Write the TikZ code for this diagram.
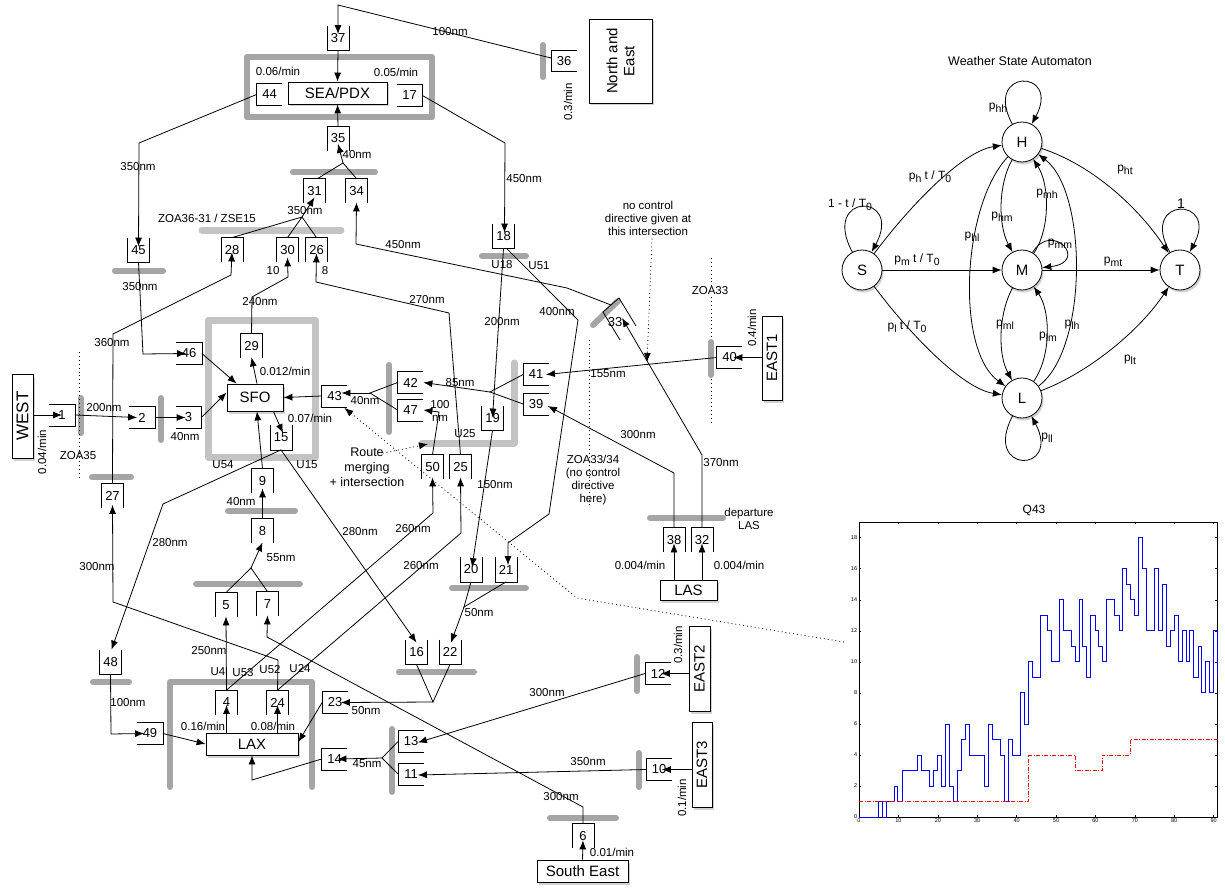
\documentclass[tikz,border=0pt]{standalone}
\usepackage{fontspec}
\setmainfont{Liberation Sans}
\usetikzlibrary{arrows.meta,calc,shadows}
\definecolor{barg}{RGB}{165,165,165}
\definecolor{barl}{RGB}{195,195,195}
\tikzset{
  lbl/.style={font=\fontsize{11.5}{13}\selectfont, inner sep=0pt, align=center},
  qv/.style={minimum width=21pt, minimum height=24pt, inner sep=0pt, font=\fontsize{13}{14}\selectfont},
  qh/.style={minimum width=25pt, minimum height=21pt, inner sep=0pt, font=\fontsize{13}{14}\selectfont},
  bigbox/.style={draw, fill=white, font=\fontsize{15}{17}\selectfont, inner sep=1pt, align=center,
     drop shadow={opacity=0.35, shadow xshift=1.5pt, shadow yshift=-2.5pt}},
  st/.style={circle, draw, fill=white, minimum size=40pt, inner sep=0pt, font=\fontsize{15}{17}\selectfont,
     drop shadow={opacity=0.35, shadow xshift=1.5pt, shadow yshift=-2.5pt}},
  ar/.style={-{Latex[length=9pt,width=7pt]}},
  bar/.style={line width=6pt, line cap=round, line join=round, draw=barg},
  barL/.style={line width=7pt, line cap=round, line join=round, draw=barl},
  dotline/.style={line width=0.8pt, dash pattern=on 0.9pt off 3pt},
  plab/.style={inner sep=0pt, font=\fontsize{12}{13}\selectfont},
}
\newcommand\sbx[1]{\raisebox{-0.45ex}{\fontsize{10.5}{11}\selectfont #1}}
\newcommand\quT[4]{\node[qv] (#1) at (#2,#3) {#4};\draw (#1.north west)--(#1.south west)--(#1.south east)--(#1.north east);}
\newcommand\quB[4]{\node[qv] (#1) at (#2,#3) {#4};\draw (#1.south west)--(#1.north west)--(#1.north east)--(#1.south east);}
\newcommand\quL[4]{\node[qh] (#1) at (#2,#3) {#4};\draw (#1.north west)--(#1.north east)--(#1.south east)--(#1.south west);}
\newcommand\quR[4]{\node[qh] (#1) at (#2,#3) {#4};\draw (#1.north east)--(#1.north west)--(#1.south west)--(#1.south east);}
\begin{document}
\begin{tikzpicture}[x=1pt,y=-1pt,line width=0.8pt]
\fill[white] (0,0) rectangle (1225,888);
\useasboundingbox (0,0) rectangle (1225,888);

% ---------- gray bars ----------
\draw[bar] (247,57) rectangle (432,117);
\draw[barL] (208,320) rectangle (315,457);
\draw[bar] (293,172) -- (375,172);
\draw[barL] (202,230) -- (341,230);
\draw[bar] (115,271) -- (163,271);
\draw[bar] (81,398) -- (81,433);
\draw[bar] (161,398) -- (161,440);
\draw[bar] (92,477) -- (131,477);
\draw[bar] (228,511) -- (295,511);
\draw[bar] (196,584) -- (300,584);
\draw[bar] (93,682) -- (129,682);
\draw[bar] (170,787) -- (170,682) -- (312,682) -- (312,787);
\draw[bar] (392,729) -- (392,792);
\draw[bar] (399,672) -- (474,672);
\draw[bar] (452,588) -- (526,588);
\draw[barL] (514,363) -- (514,443) -- (422,443);
\draw[bar] (389,365) -- (389,432);
\draw[bar] (593,325) -- (618,301);
\draw[bar] (650,518) -- (723,518);
\draw[bar] (637,657) -- (637,691);
\draw[bar] (639,753) -- (639,787);
\draw[bar] (550,818) -- (616,818);
\draw[bar] (482,256) -- (526,256);
\draw[bar] (543,45) -- (543,77);

% ---------- dotted zone lines ----------
\draw[dotline] (79,352) -- (79,480);
\draw[dotline] (711,258) -- (711,425);
\draw[dotline] (589,340) -- (589,507);
\draw[bar] (711,342) -- (711,375);

% ---------- big boxes ----------
\node[bigbox, minimum width=99pt, minimum height=22pt] (SEA) at (337.5,93) {SEA/PDX};
\node[bigbox, minimum width=56pt, minimum height=27pt] (SFO) at (255,397.5) {SFO};
\node[bigbox, minimum width=92pt, minimum height=22pt] (LAX) at (252,744) {LAX};
\node[bigbox, minimum width=57pt, minimum height=20pt] (LAS) at (688.5,590) {LAS};
\node[bigbox, minimum width=91pt, minimum height=22pt] (SE) at (582.5,871) {South East};
\node[bigbox, rotate=90, minimum width=84pt, minimum height=21pt, font=\fontsize{17}{19}\selectfont] (WEST) at (22.5,416) {WEST};
\node[bigbox, rotate=90, minimum width=84pt, minimum height=20pt] (EAST1) at (772,358) {EAST1};
\node[bigbox, rotate=90, minimum width=85pt, minimum height=21pt] (EAST2) at (699.5,668.5) {EAST2};
\node[bigbox, rotate=90, minimum width=85pt, minimum height=20pt] (EAST3) at (702,764.5) {EAST3};
\node[bigbox, rotate=90, minimum width=84pt, minimum height=63pt] (NE) at (620.5,61) {North and\\East};

% ---------- queues ----------
\quT{q37}{338}{38.5}{37}
\quR{q44}{269.5}{94.5}{44}
\quL{q17}{409.5}{95.5}{17}
\quB{q35}{338}{138.5}{35}
\quB{q31}{314.5}{191}{31}
\quB{q34}{356.5}{191}{34}
\quT{q45}{138.5}{250}{45}
\quB{q28}{232}{250}{28}
\quB{q30}{287.5}{250}{30}
\quB{q26}{316.5}{250}{26}
\quB{q29}{251.5}{346}{29}
\quL{q46}{189}{353.5}{46}
\quL{q1}{62}{415}{1}
\quL{q2}{142}{417.5}{2}
\quL{q3}{188.5}{417.5}{3}
\quT{q15}{281}{437.5}{15}
\quB{q9}{262.5}{481}{9}
\quB{q8}{262.5}{531}{8}
\quB{q27}{112.5}{495.5}{27}
\quB{q5}{226}{605}{5}
\quB{q7}{267.5}{604}{7}
\quT{q48}{110.5}{662}{48}
\quL{q49}{150}{733.5}{49}
\quB{q4}{226.5}{702.5}{4}
\quB{q24}{277.5}{702.5}{24}
\quR{q23}{335}{702.5}{23}
\quR{q14}{334.5}{759}{14}
\quR{q13}{411}{741.5}{13}
\quR{q11}{411}{774}{11}
\quR{q12}{658}{673.5}{12}
\quR{q10}{659}{769.5}{10}
\quB{q6}{583}{836}{6}
\quT{q16}{416.5}{652}{16}
\quT{q22}{450}{652}{22}
\quT{q20}{471}{569.5}{20}
\quT{q21}{506}{569.5}{21}
\quT{q19}{492.5}{418}{19}
\quT{q18}{503.5}{236}{18}
\quB{q50}{432.5}{467}{50}
\quB{q25}{460.5}{467}{25}
\quR{q43}{334.5}{396}{43}
\quR{q42}{410.5}{382.5}{42}
\quR{q47}{410.5}{410}{47}
\quR{q41}{536}{374.5}{41}
\quR{q39}{536}{404}{39}
\quR{q40}{729.5}{357.5}{40}
\quB{q38}{674}{540}{38}
\quB{q32}{702}{540}{32}
\quR{q36}{564}{61}{36}
\node[inner sep=0pt, font=\fontsize{13}{14}\selectfont] (q33) at (615,322) {33};
\draw ($(q33)+(5,18)$) -- ($(q33)+(-12,-10)$) -- ($(q33)+(4,-24)$) -- ($(q33)+(21,4)$);

% ---------- bend points ----------
\coordinate (b36) at (338,5);
\coordinate (b44) at (139,143);
\coordinate (b45) at (143,354);
\coordinate (m35) at (343,163);
\coordinate (m31) at (302,217);
\coordinate (b29a) at (252,297);
\coordinate (b29b) at (288,277);
\coordinate (b27a) at (113,334);
\coordinate (b27b) at (231,275);
\coordinate (b25a) at (449,313);
\coordinate (b25b) at (316,282);
\coordinate (b33a) at (567,288);
\coordinate (b33b) at (356,244);
\coordinate (b17) at (505,143);
\coordinate (b51a) at (578,320);
\coordinate (b51b) at (549,514);
\coordinate (b51c) at (508,543);
\coordinate (m22) at (464,607);
\coordinate (m23) at (433,702);
\coordinate (b50) at (433,513);
\coordinate (b25c) at (461,533);
\coordinate (b24a) at (278,660);
\coordinate (b24b) at (113,602);
\coordinate (m8) at (251,568);
\coordinate (b15) at (163,504);
\coordinate (b48) at (111,734);
\coordinate (m43) at (370,393);
\coordinate (m42) at (490,392);
\coordinate (b47) at (439,412);
\coordinate (b38) at (674,473);
\coordinate (b32) at (702,455);
\coordinate (m14) at (382,758);
\coordinate (b14) at (252,780);
\coordinate (b6a) at (583,807);
\coordinate (b6b) at (267,637);

% ---------- connectors ----------
\draw[ar] ($(q36.west)+(0,-3)$) -- (b36) -- ($(q37.north)+(0,8)$);
\draw[ar] (q37.south) -- (SEA.north);
\draw[ar] (q35.north) -- (SEA.south);
\draw ($(q31.north)+(3,0)$) -- (m35) -- (q34.north);
\draw[ar] (m35) -- ($(q35.south)+(0,-7)$);
\draw[ar] (q44.west) -- (b44) -- ($(q45.north)+(0,9)$);
\draw[ar] (q45.south) -- (b45) -- ($(q46.west)+(10,0)$);
\draw[ar] (q46.east) -- ($(SFO.north west)+(10,0)$);
\draw[ar] (q1 -| WEST.south) -- ($(q1.west)+(13,0)$);
\draw[ar] (q1.east) -- ($(q2.west)+(8,0)$);
\draw[ar] (q2.east) -- ($(q3.west)+(10,0)$);
\draw[ar] (q3.east) -- ($(SFO.west)+(0,-5)$);
\draw[ar] ($(SFO.north)+(2,0)$) -- ($(q29.south)+(0,-1)$);
\draw[ar] (q29.north) -- (b29a) -- (b29b) -- ($(q30.south)+(0,-5)$);
\draw (q28.north) -- (m31) -- (q30.north);
\draw (q26.north) -- (m31);
\draw[ar] (m31) -- ($(q31.south)+(0,-6)$);
\draw[ar] (q27.north) -- (b27a) -- (b27b) -- ($(q28.south)+(0,-10)$);
\draw[ar] (q25.north) -- (b25a) -- (b25b) -- ($(q26.south)+(0,-9)$);
\draw[ar] ($(q33)+(-4,-17)$) -- (b33a) -- (b33b) -- ($(q34.south)+(0,-1)$);
\draw[ar] (q17.east) -- (b17) -- ($(q18.north)+(1,9)$);
\draw[ar] (q18.south) -- ($(q19.north)+(0,12)$);
\draw[ar] ($(q18.south)+(3,0)$) -- (b51a) -- (b51b) -- (b51c) -- ($(q21.north)+(2,8)$);
\draw[ar] (q19.south) -- ($(q20.north)+(1,10)$);
\draw (q20.south) -- (m22) -- (q21.south);
\draw[ar] (m22) -- ($(q22.north)+(1,3)$);
\draw (q16.south) -- (m23) -- (q22.south);
\draw[ar] (m23) -- ($(q23.east)+(-7,0)$);
\draw[ar] (q23.west) -- ($(LAX.east)+(0,-2)$);
\draw[ar] (q4 |- LAX.north) -- ($(q4.south)+(0,-10)$);
\draw[ar] (q24 |- LAX.north) -- ($(q24.south)+(0,-10)$);
\draw[ar] (q4.north) -- ($(q5.south)+(0,-1)$);
\draw[ar] (q4.north) -- (b50) -- ($(q50.south)+(0,-2)$);
\draw[ar] (q24.north) -- (b25c) -- ($(q25.south)+(0,-2)$);
\draw[ar] (q24.north) -- (b24a) -- (b24b) -- ($(q27.south)+(0,-3)$);
\draw (q5.north) -- (m8) -- (q7.north);
\draw[ar] (m8) -- ($(q8.south)+(0,-1)$);
\draw[ar] (q8.north) -- ($(q9.south)+(0,-5)$);
\draw[ar] (q9.north) -- ($(SFO.south)+(2,0)$);
\draw[ar] ($(SFO.south east)+(-10,0)$) -- ($(q15.north)+(2,8)$);
\draw[ar] (q15.south) -- (b15) -- ($(q48.north)+(1,0)$);
\draw[ar] (q15.south) -- ($(q16.north)+(0,3)$);
\draw[ar] (q48.south) -- (b48) -- ($(q49.west)+(7,0)$);
\draw[ar] (q49.east) -- (LAX.west);
\draw[ar] (q43.west) -- (SFO.east);
\draw (q42.west) -- (m43) -- (q47.west);
\draw[ar] (m43) -- ($(q43.east)+(-6,-3)$);
\draw (q41.west) -- (m42) -- (q39.west);
\draw[ar] (m42) -- (q42.east);
\draw[ar] (q50.north) -- (b47) -- (q47.east);
\draw[ar] (q40.west) -- ($(q41.east)+(-3,0)$);
\draw[ar] (q40 -| EAST1.north) -- ($(q40.east)+(-9,0)$);
\draw[ar] (q38 |- LAS.north) -- ($(q38.south)+(0,-9)$);
\draw[ar] (q32 |- LAS.north) -- ($(q32.south)+(0,-9)$);
\draw[ar] (q38.north) -- (b38) -- ($(q39.east)+(-1,2)$);
\draw[ar] (q32.north) -- (b32) -- ($(q33)+(7,-4)$);
\draw[ar] (q12 -| EAST2.north) -- ($(q12.east)+(-10,0)$);
\draw[ar] (q12.west) -- ($(q13.east)+(-6,1)$);
\draw[ar] (q10 -| EAST3.north) -- ($(q10.east)+(-10,0)$);
\draw[ar] (q10.west) -- ($(q11.east)+(-6,1)$);
\draw (q13.west) -- (m14) -- (q11.west);
\draw[ar] (m14) -- ($(q14.east)+(-10,0)$);
\draw[ar] (q14.west) -- (b14) -- (LAX.south);
\draw[ar] (SE.north) -- ($(q6.south)+(0,-8)$);
\draw[ar] (q6.north) -- (b6a) -- (b6b) -- ($(q7.south)+(0,-1)$);

% ---------- dotted annotation arrows ----------
\node[lbl] (ncl) at (648,218) {no control\\directive given at\\this intersection};
\coordinate (x40) at (647,362);
\draw[dotline, ar] ($(ncl.south)+(4,3)$) -- (x40);
\node[lbl, font=\fontsize{12.5}{15}\selectfont] (rm) at (367,467) {Route\\merging\\+ intersection};
\coordinate (u25c) at (428,444);
\draw[dotline, ar] ($(rm.north east)+(-22,6)$) -- (u25c);
\coordinate (cq) at (844,642);
\coordinate (dq) at (577,598);
\draw[dotline, ar] (cq) -- (dq) -- ($(q43.south east)+(-3,1)$);

% ---------- labels ----------
\node[lbl] at (450,32) {100nm};
\node[lbl] at (278,71) {0.06/min};
\node[lbl] at (396,72) {0.05/min};
\node[lbl] at (357,155) {40nm};
\node[lbl] at (305,211) {350nm};
\node[lbl] at (207,218) {ZOA36-31 / ZSE15};
\node[lbl] at (138,167) {350nm};
\node[lbl] at (140,287) {350nm};
\node[lbl] at (273,271) {10};
\node[lbl] at (325,271) {8};
\node[lbl] at (260,302) {240nm};
\node[lbl] at (427,300) {270nm};
\node[lbl] at (403,245) {450nm};
\node[lbl] at (524,179) {450nm};
\node[lbl] at (502,265) {U18};
\node[lbl] at (539,266) {U51};
\node[lbl] at (502,322) {200nm};
\node[lbl] at (557,312) {400nm};
\node[lbl, fill=white, inner sep=1pt] at (710,291) {ZOA33};
\node[lbl, rotate=90] at (752,328) {0.4/min};
\node[lbl] at (608,374) {155nm};
\node[lbl] at (460,383) {85nm};
\node[lbl] at (365,401) {40nm};
\node[lbl] at (440,411) {100\\nm};
\node[lbl] at (465,434) {U25};
\node[lbl] at (638,435) {300nm};
\node[lbl] at (721,463) {370nm};
\node[lbl] at (593,480) {ZOA33/34\\(no control\\directive\\here)};
\node[lbl] at (495,485) {150nm};
\node[lbl] at (749,519) {departure\\LAS};
\node[lbl] at (640,565) {0.004/min};
\node[lbl] at (739,565) {0.004/min};
\node[lbl] at (112,343) {360nm};
\node[lbl] at (285,371) {0.012/min};
\node[lbl] at (104,408) {200nm};
\node[lbl] at (185,437) {40nm};
\node[lbl, rotate=90] at (42,452) {0.04/min};
\node[lbl] at (78,456) {ZOA35};
\node[lbl] at (310,418) {0.07/min};
\node[lbl] at (223,465) {U54};
\node[lbl] at (307,465) {U15};
\node[lbl] at (241,502) {40nm};
\node[lbl] at (170,543) {280nm};
\node[lbl] at (360,532) {280nm};
\node[lbl] at (413,529) {260nm};
\node[lbl] at (281,558) {55nm};
\node[lbl] at (97,567) {300nm};
\node[lbl] at (421,566) {260nm};
\node[lbl] at (479,613) {50nm};
\node[lbl] at (209,651) {250nm};
\node[lbl] at (218,672) {U4};
\node[lbl] at (243,673) {U53};
\node[lbl] at (270,670) {U52};
\node[lbl] at (300,669) {U24};
\node[lbl] at (128,703) {100nm};
\node[lbl] at (203,726) {0.16/min};
\node[lbl] at (273,726) {0.08/min};
\node[lbl] at (366,711) {50nm};
\node[lbl] at (367,764) {45nm};
\node[lbl] at (547,693) {300nm};
\node[lbl] at (588,762) {350nm};
\node[lbl, rotate=90] at (678,645) {0.3/min};
\node[lbl, rotate=90] at (682,798) {0.1/min};
\node[lbl] at (561,797) {300nm};
\node[lbl] at (612,852) {0.01/min};
\node[lbl, rotate=90] at (568,102) {0.3/min};

% ---------- weather state automaton ----------
\node[lbl, font=\fontsize{12.5}{14}\selectfont] at (1020,61) {Weather State Automaton};
\node[st] (H) at (1022,142) {H};
\node[st] (M) at (1022,270) {M};
\node[st] (L) at (1022,398) {L};
\node[st] (S) at (862,270) {S};
\node[st] (T) at (1180,270) {T};
\draw[ar] (S) .. controls (905,212) and (960,152) .. (H);
\draw[ar] (S) -- (M);
\draw[ar] (S) .. controls (905,328) and (960,388) .. (L);
\draw[ar] (H) .. controls (1095,166) and (1140,210) .. (T);
\draw[ar] (M) -- (T);
\draw[ar] (L) .. controls (1090,372) and (1140,330) .. (T);
\draw[ar] (H) .. controls (998,185) and (998,225) .. (M);
\draw[ar] (M) .. controls (1050,230) and (1050,185) .. (H);
\draw[ar] (H) .. controls (962,205) and (955,350) .. (L);
\draw[ar] (L) .. controls (1088,350) and (1088,192) .. (H);
\draw[ar] (M) .. controls (998,315) and (998,355) .. (L);
\draw[ar] (L) .. controls (1052,355) and (1050,310) .. (M);
\draw[ar] (H) .. controls (982,68) and (1062,68) .. (H);
\draw[ar] (S) .. controls (820,192) and (904,192) .. (S);
\draw[ar] (T) .. controls (1138,196) and (1220,196) .. (T);
\draw[ar] (L) .. controls (982,474) and (1062,474) .. (L);
\draw[ar] (M) .. controls (1052,220) and (1090,262) .. (M);
\node[plab] at (998,108) {p\sbx{hh}};
\node[plab] at (850,205) {1 - t / T\sbx{0}};
\node[plab, font=\fontsize{14}{15}\selectfont] at (1181,204) {1};
\node[plab] at (930,177) {p\sbx{h} t / T\sbx{0}};
\node[plab] at (917,260) {p\sbx{m} t / T\sbx{0}};
\node[plab] at (907,327) {p\sbx{l} t / T\sbx{0}};
\node[plab] at (1125,170) {p\sbx{ht}};
\node[plab] at (1113,262) {p\sbx{mt}};
\node[plab] at (1130,360) {p\sbx{lt}};
\node[plab] at (1002,217) {p\sbx{hm}};
\node[plab] at (1047,194) {p\sbx{mh}};
\node[plab] at (972,237) {p\sbx{hl}};
\node[plab] at (1072,325) {p\sbx{lh}};
\node[plab] at (1005,325) {p\sbx{ml}};
\node[plab] at (1048,337) {p\sbx{lm}};
\node[plab] at (1060,244) {p\sbx{mm}};
\node[plab] at (1047,438) {p\sbx{ll}};

% ---------- Q43 chart ----------
\node[lbl, font=\fontsize{12}{13}\selectfont] at (1034,510) {Q43};
\begin{scope}[shift={(859,817)}, x=3.94pt, y=15.52pt]
\draw[line width=0.7pt] (0,0) rectangle (91,19);
\foreach \t in {0,10,...,90} {
  \draw[line width=0.4pt] (\t,0) -- ++(0,0.15);
  \draw[line width=0.4pt] (\t,19) -- ++(0,-0.15);
  \node[inner sep=1pt, below, font=\fontsize{5.5}{6}\selectfont] at (\t,0) {\t};
}
\foreach \v in {0,2,...,18} {
  \draw[line width=0.4pt] (0,\v) -- ++(0.6,0);
  \draw[line width=0.4pt] (91,\v) -- ++(-0.6,0);
  \node[inner sep=1.5pt, left, font=\fontsize{5.5}{6}\selectfont] at (0,\v) {\v};
}
\draw[blue, line width=0.7pt, const plot] plot coordinates {
(0,0) (4.9,1) (5.8,0) (6.9,1) (8.9,2) (9.8,1) (10.9,3) (14.9,4) (15.8,3) (17.9,2) (18.9,3) (19.9,4) (20.8,2) (21.9,6) (22.9,2) (24,1) (24.9,3) (25.9,5) (26.9,6) (27.9,4) (31.9,2) (32.9,6) (33.9,5) (35.8,4) (36.8,1) (37.9,5) (39,4) (40.9,8) (41.9,6) (42.9,10) (43.9,9) (45.9,13) (47.8,12) (48.9,10) (50.9,14) (51.9,12) (53.9,11) (54.9,10) (55.9,14) (56.8,11) (57.8,9) (58.8,13) (59.9,12) (60.8,11) (61.8,10) (62.8,14) (64.9,13) (66,12) (66.9,16) (67.9,15) (68.8,14) (69.9,13) (70.9,18) (72,16) (73,12) (75,16) (76,12) (77,15) (78,11) (79,12) (80,13) (81,10) (82,12) (83,10) (83.9,12) (84.9,9) (86,11) (87,8) (88,10) (89,8) (90,12) (90.9,9) (91,9)};
\draw[red, line width=0.7pt, dash pattern=on 4pt off 1.5pt on 1pt off 1.5pt, const plot] plot coordinates {
(0,1) (43,4) (54.9,3) (61.8,4) (68.8,5) (91,5)};
\end{scope}
\end{tikzpicture}
\end{document}
